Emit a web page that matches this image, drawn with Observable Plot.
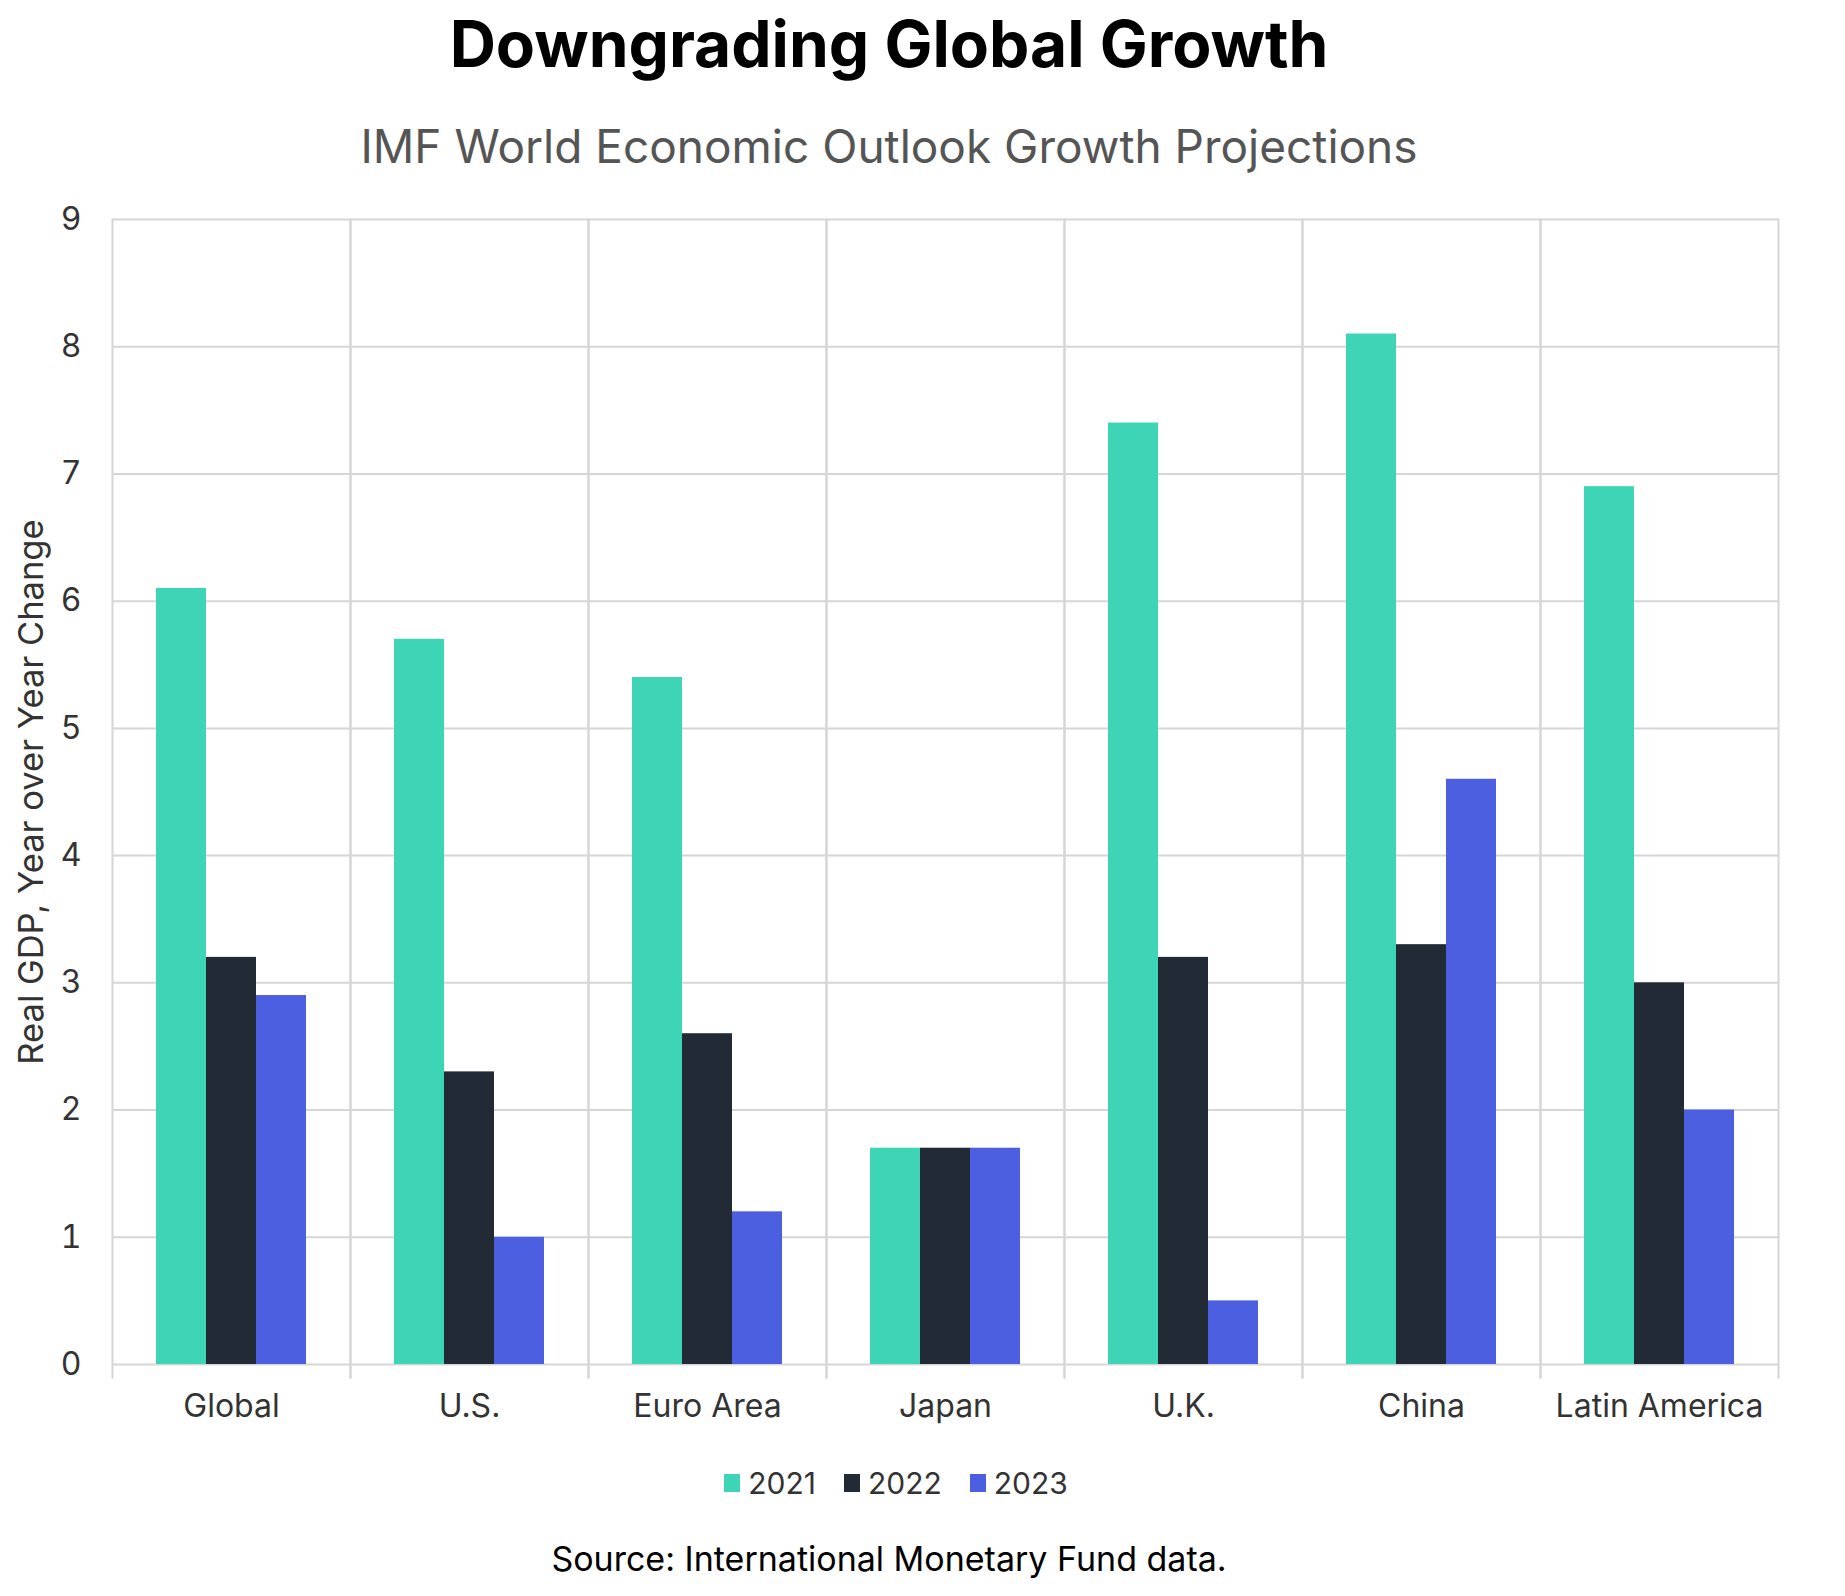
<!DOCTYPE html>
<html>
<head>
<meta charset="utf-8">
<script src="https://cdn.jsdelivr.net/npm/d3@7"></script>
<script src="https://cdn.jsdelivr.net/npm/@observablehq/plot@0.6"></script>
<style>
  html, body { margin: 0; padding: 0; background: #fff; }
  body { width: 1845px; height: 1596px; position: relative; font-family: Inter, "Liberation Sans", sans-serif; }
  .title { position: absolute; left: 0; width: 1778px; top: 12px; text-align: center; font-size: 64px; line-height: 64px; font-weight: 700; color: #000; }
  .subtitle { position: absolute; left: 0; width: 1778px; top: 123px; text-align: center; font-size: 46px; line-height: 46px; color: #555; }
  #chart { position: absolute; left: 0; top: 190px; }
  .legend { position: absolute; left: 7px; width: 1778px; top: 1468px; display: flex; justify-content: center; align-items: center; font-size: 30px; line-height: 30px; color: #333; }
  .item { display: flex; align-items: center; margin: 0 14px; }
  .sw { width: 16px; height: 18px; margin-right: 8px; }
  .source { position: absolute; left: 0; width: 1778px; top: 1542px; text-align: center; font-size: 34px; line-height: 34px; color: #000; }
</style>
</head>
<body>
<div class="title">Downgrading Global Growth</div>
<div class="subtitle">IMF World Economic Outlook Growth Projections</div>
<div id="chart"></div>
<div class="legend" id="legend"></div>
<div class="source">Source: International Monetary Fund data.</div>
<script>
const regions = ["Global", "U.S.", "Euro Area", "Japan", "U.K.", "China", "Latin America"];
const years = ["2021", "2022", "2023"];
const v2021 = [6.1, 5.7, 5.4, 1.7, 7.4, 8.1, 6.9];
const v2022 = [3.2, 2.3, 2.6, 1.7, 3.2, 3.3, 3.0];
const v2023 = [2.9, 1.0, 1.2, 1.7, 0.5, 4.6, 2.0];
const yTicks = [0, 1, 2, 3, 4, 5, 6, 7, 8, 9];
const colors = ["#3dd5b5", "#222a36", "#4b5fe0"];

const series = [v2021, v2022, v2023];
const data = [];
regions.forEach((r, i) => years.forEach((y, j) => data.push({region: r, year: y, value: series[j][i]})));

const gridColor = "#d6d6d6";
const chart = Plot.plot({
  width: 1845,
  height: 1244,
  marginLeft: 112,
  marginRight: 67,
  marginTop: 29,
  marginBottom: 70,
  style: {fontFamily: "Inter, 'Liberation Sans', sans-serif", fontSize: "32px", color: "#333", background: "white"},
  fx: {domain: regions, padding: 0, label: null, tickSize: 0, tickPadding: 30, axis: "bottom"},
  x: {domain: years, paddingInner: 0, paddingOuter: 0.88, axis: null},
  y: {domain: [0, 9], ticks: yTicks, tickSize: 0, tickPadding: 31, label: "Real GDP, Year over Year Change", labelAnchor: "center", labelOffset: 94, labelArrow: "none"},
  color: {domain: years, range: colors},
  marks: [
    Plot.gridY(yTicks, {stroke: gridColor, strokeOpacity: 1, strokeWidth: 2}),
    Plot.frame({anchor: "left", insetBottom: -13, stroke: gridColor, strokeOpacity: 1, strokeWidth: 2}),
    Plot.frame({anchor: "right", insetBottom: -13, stroke: gridColor, strokeOpacity: 1, strokeWidth: 2}),
    Plot.barY(data, {fx: "region", x: "year", y: "value", fill: "year"})
  ]
});
document.getElementById("chart").appendChild(chart);
// Slightly larger y-axis title, as in the reference
chart.querySelectorAll("[aria-label='y-axis label'] text, g[aria-label='y-axis label']").forEach(el => el.setAttribute("font-size", "34.5"));

const legend = document.getElementById("legend");
years.forEach((y, j) => {
  const it = document.createElement("div");
  it.className = "item";
  it.innerHTML = `<div class="sw" style="background:${colors[j]}"></div><span>${y}</span>`;
  legend.appendChild(it);
});
</script>
</body>
</html>
